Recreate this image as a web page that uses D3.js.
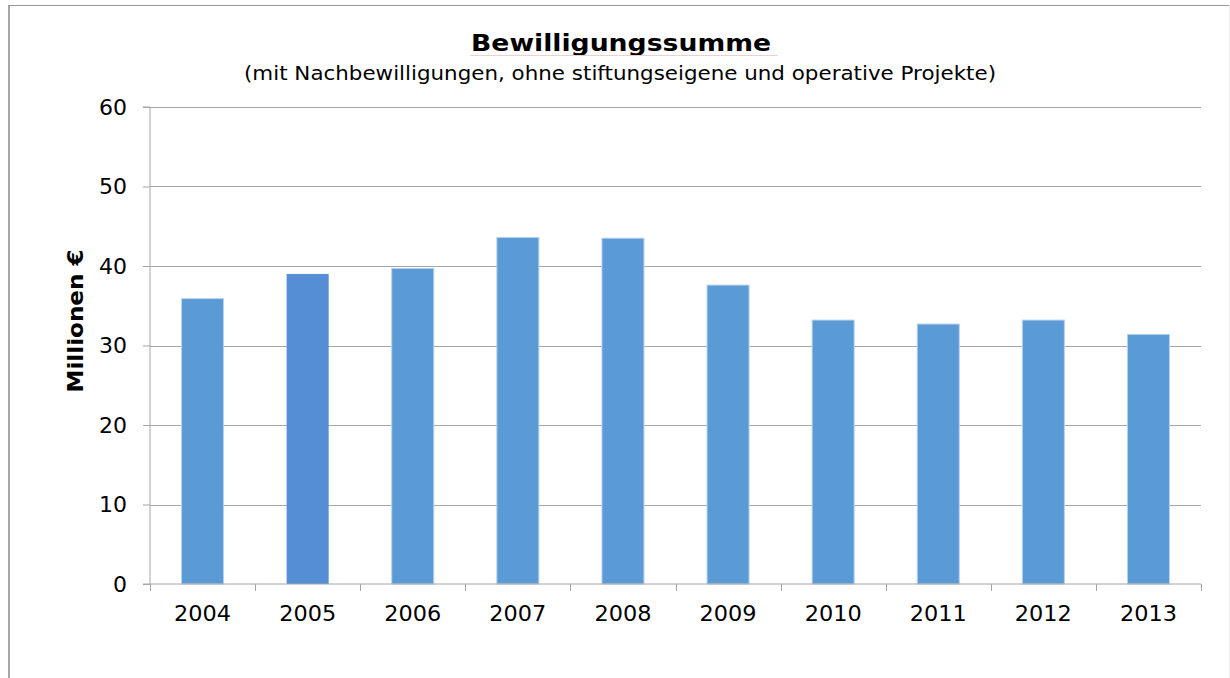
<!DOCTYPE html>
<html>
<head>
<meta charset="utf-8">
<script src="https://cdn.jsdelivr.net/npm/d3@7/dist/d3.min.js"></script>
<style>
  body { margin: 0; background: #fff; }
  text { font-family: "DejaVu Sans", Verdana, sans-serif; fill: #000; }
</style>
</head>
<body>
<script>
// chart data
const years = ["2004", "2005", "2006", "2007", "2008", "2009", "2010", "2011", "2012", "2013"];
const amounts = [35.9, 39.0, 39.7, 43.6, 43.5, 37.6, 33.2, 32.7, 33.2, 31.4];
const yTicks = [0, 10, 20, 30, 40, 50, 60];

const W = 1230, H = 678;
const margin = {top: 107, right: 29, bottom: 94, left: 150};
const width = W - margin.left - margin.right;
const height = H - margin.top - margin.bottom;

const svg = d3.select("body").append("svg")
    .attr("width", W)
    .attr("height", H);

// outer frame
svg.append("line").attr("x1", 9).attr("x2", 9).attr("y1", 5).attr("y2", H)
    .attr("stroke", "#a6a6a6").attr("stroke-width", 2);
svg.append("line").attr("x1", 8).attr("x2", W).attr("y1", 5.5).attr("y2", 5.5)
    .attr("stroke", "#979797").attr("stroke-width", 1);
svg.append("line").attr("x1", 1229.5).attr("x2", 1229.5).attr("y1", 5).attr("y2", H)
    .attr("stroke", "#ececec").attr("stroke-width", 1);

// titles
svg.append("text")
    .attr("x", 621).attr("y", 51)
    .attr("text-anchor", "middle")
    .attr("textLength", 300).attr("lengthAdjust", "spacingAndGlyphs")
    .style("font-size", "23px").style("font-weight", "bold")
    .text("Bewilligungssumme");
svg.append("line").attr("x1", 470).attr("x2", 778).attr("y1", 55.5).attr("y2", 55.5)
    .attr("stroke", "#f4cccc").attr("stroke-width", 1);
svg.append("text")
    .attr("x", 620).attr("y", 80)
    .attr("text-anchor", "middle")
    .attr("textLength", 752).attr("lengthAdjust", "spacingAndGlyphs")
    .style("font-size", "19px")
    .text("(mit Nachbewilligungen, ohne stiftungseigene und operative Projekte)");

const g = svg.append("g")
    .attr("transform", `translate(${margin.left},${margin.top})`);

const x = d3.scaleBand()
    .domain(years)
    .range([0, width])
    .paddingInner(0.6)
    .paddingOuter(0.3);

const y = d3.scaleLinear()
    .domain([0, 60])
    .range([height, 0]);

// gridlines
g.append("g")
    .selectAll("line")
    .data(yTicks.filter(d => d > 0))
    .join("line")
    .attr("x1", 0).attr("x2", width)
    .attr("y1", d => Math.round(y(d)) + 0.5)
    .attr("y2", d => Math.round(y(d)) + 0.5)
    .attr("stroke", "#a6a6a6");

// bars
g.append("g")
    .selectAll("rect")
    .data(amounts)
    .join("rect")
    .attr("x", (d, i) => x(years[i]))
    .attr("y", d => y(d))
    .attr("width", x.bandwidth())
    .attr("height", d => height - y(d))
    .attr("fill", (d, i) => i === 1 ? "#558ed5" : "#5b9bd5")
    .attr("stroke", (d, i) => i === 1 ? "none" : "#b8d3ee")
    .attr("stroke-width", 1);

// y axis
const yAxis = g.append("g")
    .call(d3.axisLeft(y).tickValues(yTicks).tickSize(7).tickPadding(16));
yAxis.select(".domain").attr("stroke", "#a6a6a6").attr("d", `M-7,${height}H0V0H-7`);
yAxis.selectAll(".tick line").attr("stroke", "#a6a6a6");
yAxis.selectAll(".tick text").style("font-size", "22px").attr("fill", "#000")
    .attr("textLength", d => d === 0 ? 14 : 28).attr("lengthAdjust", "spacingAndGlyphs");

// x axis with ticks at category boundaries
const xAxis = g.append("g")
    .attr("transform", `translate(0,${height})`)
    .call(d3.axisBottom(x).tickSize(0).tickPadding(21));
xAxis.select(".domain").attr("stroke", "#a6a6a6").attr("d", `M0,0H${width}`);
xAxis.selectAll(".tick text").style("font-size", "22px").attr("fill", "#000")
    .attr("textLength", 57).attr("lengthAdjust", "spacingAndGlyphs");

g.append("g")
    .attr("transform", `translate(0,${height})`)
    .selectAll("line")
    .data(d3.range(years.length + 1))
    .join("line")
    .attr("x1", i => Math.round(i * width / years.length) + 0.5)
    .attr("x2", i => Math.round(i * width / years.length) + 0.5)
    .attr("y1", 0).attr("y2", 7)
    .attr("stroke", "#a6a6a6");

// y axis title
svg.append("text")
    .attr("transform", "translate(75,321) rotate(-90)")
    .attr("dy", "0.36em")
    .attr("text-anchor", "middle")
    .attr("textLength", 143).attr("lengthAdjust", "spacingAndGlyphs")
    .style("font-size", "21px").style("font-weight", "bold")
    .text("Millionen €");
</script>
</body>
</html>
